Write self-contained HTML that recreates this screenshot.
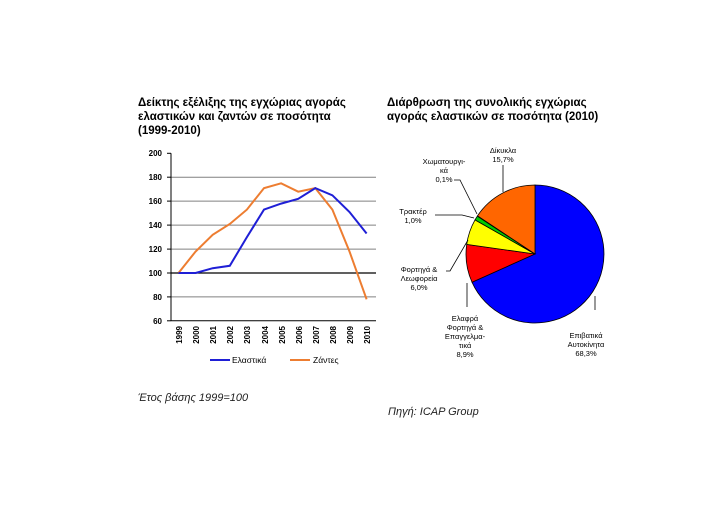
<!DOCTYPE html>
<html><head><meta charset="utf-8"><style>
body{margin:0;background:#fff}
svg{display:block;font-family:"Liberation Sans","DejaVu Sans",sans-serif}
</style></head><body>
<svg width="719" height="522" viewBox="0 0 719 522" xmlns="http://www.w3.org/2000/svg">
<rect width="719" height="522" fill="#fff"/>
<g font-weight="bold" font-size="11.5" fill="#000">
<text x="138" y="106">Δείκτης εξέλιξης της εγχώριας αγοράς</text>
<text x="138" y="120">ελαστικών και ζαντών σε ποσότητα</text>
<text x="138" y="134">(1999-2010)</text>
<text x="387" y="106">Διάρθρωση της συνολικής εγχώριας</text>
<text x="387" y="120">αγοράς ελαστικών σε ποσότητα (2010)</text>
</g>
<!-- line chart grid -->
<g stroke="#808080" stroke-width="1">
<line x1="171" y1="177.2" x2="376" y2="177.2"/>
<line x1="171" y1="201.1" x2="376" y2="201.1"/>
<line x1="171" y1="225.1" x2="376" y2="225.1"/>
<line x1="171" y1="249.1" x2="376" y2="249.1"/>
<line x1="171" y1="296.9" x2="376" y2="296.9"/>
</g>
<line x1="171" y1="273" x2="376" y2="273" stroke="#000" stroke-width="1.2"/>
<line x1="171" y1="153.3" x2="171" y2="320.8" stroke="#000"/>
<line x1="171" y1="320.8" x2="376" y2="320.8" stroke="#000"/>
<g stroke="#000">
<line x1="167" y1="153.3" x2="171" y2="153.3"/><line x1="167" y1="177.2" x2="171" y2="177.2"/>
<line x1="167" y1="201.1" x2="171" y2="201.1"/><line x1="167" y1="225.1" x2="171" y2="225.1"/>
<line x1="167" y1="249.1" x2="171" y2="249.1"/><line x1="167" y1="273" x2="171" y2="273"/>
<line x1="167" y1="296.9" x2="171" y2="296.9"/><line x1="167" y1="320.8" x2="171" y2="320.8"/>
</g>
<g font-size="8" font-weight="bold" text-anchor="end">
<text x="162" y="156">200</text><text x="162" y="180">180</text><text x="162" y="204">160</text>
<text x="162" y="228">140</text><text x="162" y="252">120</text><text x="162" y="276">100</text>
<text x="162" y="300">80</text><text x="162" y="324">60</text>
</g>
<g font-size="8" font-weight="bold" text-anchor="end">
<text transform="translate(182,326) rotate(-90)">1999</text>
<text transform="translate(199,326) rotate(-90)">2000</text>
<text transform="translate(216,326) rotate(-90)">2001</text>
<text transform="translate(233,326) rotate(-90)">2002</text>
<text transform="translate(250,326) rotate(-90)">2003</text>
<text transform="translate(268,326) rotate(-90)">2004</text>
<text transform="translate(285,326) rotate(-90)">2005</text>
<text transform="translate(302,326) rotate(-90)">2006</text>
<text transform="translate(319,326) rotate(-90)">2007</text>
<text transform="translate(336,326) rotate(-90)">2008</text>
<text transform="translate(353,326) rotate(-90)">2009</text>
<text transform="translate(370,326) rotate(-90)">2010</text>
</g>
<polyline fill="none" stroke="#ED7D31" stroke-width="2" points="178.5,273 195.6,251.5 212.7,234.8 229.8,224 246.9,209.6 264,188.1 281.1,183.3 298.2,191.7 315.3,188.1 332.4,209.6 349.5,251.5 366.6,299.3"/>
<polyline fill="none" stroke="#1F1FD6" stroke-width="2" points="178.5,273 195.6,273 212.7,268.2 229.8,265.8 246.9,237.1 264,209.6 281.1,203.6 298.2,198.8 315.3,188.1 332.4,195.3 349.5,212 366.6,233.5"/>
<line x1="210" y1="360" x2="230" y2="360" stroke="#1F1FD6" stroke-width="2"/>
<text x="232" y="363" font-size="8.5">Ελαστικά</text>
<line x1="290" y1="360" x2="310" y2="360" stroke="#ED7D31" stroke-width="2"/>
<text x="313" y="363" font-size="8.5">Ζάντες</text>
<!-- pie -->
<g stroke="#000" stroke-width="0.8">
<path d="M535,254 L535,185 A69,69 0 1 1 472,282.2 Z" fill="#0000FF"/>
<path d="M535,254 L472,282.2 A69,69 0 0 1 466.7,244.4 Z" fill="#FF0000"/>
<path d="M535,254 L466.7,244.4 A69,69 0 0 1 475,219.9 Z" fill="#FFFF00"/>
<path d="M535,254 L475,219.9 A69,69 0 0 1 477.3,216.2 Z" fill="#00CC00"/>
<path d="M535,254 L477.5,215.8 A69,69 0 0 1 535,185 Z" fill="#FF6600"/>
</g>
<g stroke="#000" stroke-width="0.8" fill="none">
<polyline points="503,165 503,192"/>
<polyline points="454,180 460,180 477,214"/>
<polyline points="435,215 462,215 474,218"/>
<polyline points="446,271 450,271 468,240"/>
<polyline points="467,307 467,283"/>
<polyline points="595,310 595,296"/>
</g>
<g font-size="7.5" text-anchor="middle" fill="#000">
<text x="503" y="153">Δίκυκλα</text><text x="503" y="162">15,7%</text>
<text x="444" y="164">Χωματουργι-</text><text x="444" y="173">κά</text><text x="444" y="182">0,1%</text>
<text x="413" y="214">Τρακτέρ</text><text x="413" y="223">1,0%</text>
<text x="419" y="272">Φορτηγά &amp;</text><text x="419" y="281">Λεωφορεία</text><text x="419" y="290">6,0%</text>
<text x="465" y="321">Ελαφρά</text><text x="465" y="330">Φορτηγά &amp;</text><text x="465" y="339">Επαγγελμα-</text><text x="465" y="348">τικά</text><text x="465" y="357">8,9%</text>
<text x="586" y="338">Επιβατικά</text><text x="586" y="347">Αυτοκίνητα</text><text x="586" y="356">68,3%</text>
</g>
<g font-style="italic" font-size="11" fill="#222">
<text x="138" y="401">Έτος βάσης 1999=100</text>
<text x="388" y="415">Πηγή: ICAP Group</text>
</g>
</svg>
</body></html>
